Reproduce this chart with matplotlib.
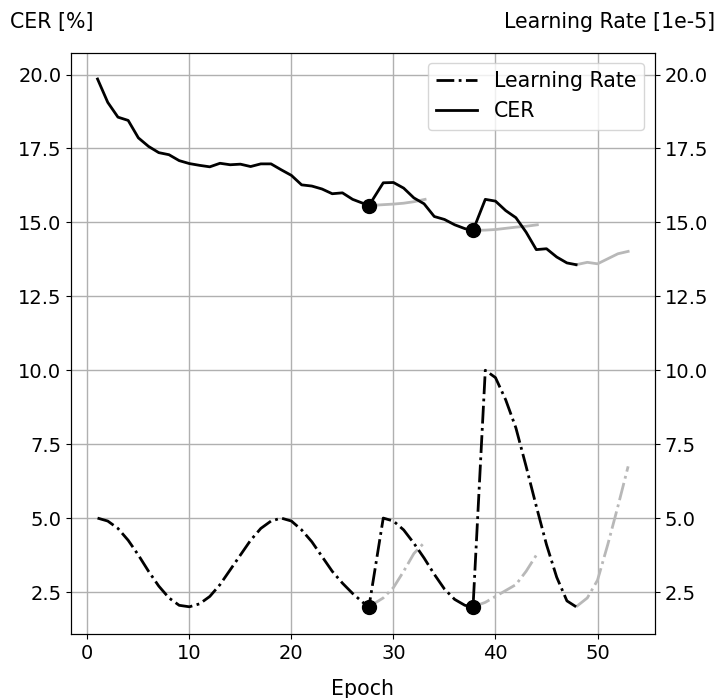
import matplotlib
matplotlib.use("Agg")
from matplotlib import pyplot as plt

# CER curve (black), with restart points at 27.6 and 37.8
cer_epoch = [1, 2, 3, 4, 5, 6, 7, 8, 9, 10, 11, 12, 13, 14, 15, 16, 17, 18, 19, 20,
             21, 22, 23, 24, 25, 26, 27.6, 29, 30, 31, 32, 33, 34, 35, 36, 37, 37.8,
             39, 40, 41, 42, 43, 44, 45, 46, 47, 47.9]
cer_value = [19.85, 19.06, 18.56, 18.45, 17.86, 17.57, 17.36, 17.29, 17.09, 16.99,
             16.93, 16.88, 17.0, 16.95, 16.97, 16.89, 16.98, 16.98, 16.78, 16.59,
             16.27, 16.23, 16.13, 15.97, 16.0, 15.78, 15.57, 16.34, 16.35, 16.16,
             15.83, 15.63, 15.2, 15.1, 14.92, 14.79, 14.73, 15.78, 15.72, 15.4,
             15.16, 14.67, 14.08, 14.11, 13.83, 13.63, 13.57]

# learning rate [1e-5] (black)
lr_epoch = [1, 2, 3, 4, 5, 6, 7, 8, 9, 10, 11, 12, 13, 14, 15, 16, 17, 18, 19, 20,
            21, 22, 23, 24, 25, 26, 27, 27.6, 29, 30, 31, 32, 33, 34, 35, 36, 37, 37.8,
            39, 40, 41, 42, 43, 44, 45, 46, 47, 47.9]
lr_value = [5.0, 4.9, 4.65, 4.25, 3.75, 3.2, 2.7, 2.3, 2.05, 2.0, 2.1, 2.35, 2.75,
            3.25, 3.75, 4.25, 4.65, 4.9, 5.0, 4.9, 4.6, 4.2, 3.7, 3.2, 2.8, 2.45,
            2.15, 2.0, 5.0, 4.9, 4.6, 4.15, 3.65, 3.1, 2.6, 2.25, 2.05, 2.0,
            10.0, 9.75, 9.0, 8.05, 6.75, 5.4, 4.1, 3.0, 2.2, 2.0]

# grey continuations (no restart)
g_cer_epoch = [[27.6, 29, 30, 31, 32, 33.1],
               [37.8, 39, 40, 41, 42, 43, 44.1],
               [47.9, 49, 50, 51, 52, 53]]
g_cer_value = [[15.57, 15.6, 15.62, 15.65, 15.7, 15.78],
               [14.73, 14.74, 14.76, 14.8, 14.84, 14.87, 14.92],
               [13.57, 13.65, 13.6, 13.77, 13.94, 14.02]]
g_lr_epoch = [[27.6, 29, 30, 31, 32, 33.1],
              [37.8, 39, 40, 41, 42, 43, 44.1],
              [47.9, 49, 50, 51, 52, 53]]
g_lr_value = [[2.0, 2.3, 2.65, 3.2, 3.8, 4.2],
              [2.0, 2.15, 2.35, 2.55, 2.75, 3.2, 3.8],
              [2.0, 2.3, 2.9, 4.1, 5.4, 6.75]]

# restart markers
restart_epoch = [27.6, 37.8]
restart_cer = [15.57, 14.73]
restart_lr = [2.0, 2.0]

grey = "#b8b8b8"
plt.rcParams["font.size"] = 14.8
plt.rcParams["xtick.labelsize"] = 14
plt.rcParams["ytick.labelsize"] = 14

fig = plt.figure(figsize=(7.21, 6.98), dpi=100)
ax = fig.add_axes([0.0985, 0.0917, 0.8095, 0.8328])
ax2 = ax.twinx()

for xs, ys in zip(g_cer_epoch, g_cer_value):
    ax.plot(xs, ys, color=grey, lw=2)
for xs, ys in zip(g_lr_epoch, g_lr_value):
    ax2.plot(xs, ys, color=grey, lw=2, ls="-.")

l_cer, = ax.plot(cer_epoch, cer_value, color="black", lw=2, label="CER")
l_lr, = ax2.plot(lr_epoch, lr_value, color="black", lw=2, ls="-.", label="Learning Rate")
ax.plot(restart_epoch, restart_cer, "o", color="black", ms=10)
ax2.plot(restart_epoch, restart_lr, "o", color="black", ms=10)

ax.set_xlim(-1.6, 55.6)
ax.set_ylim(1.08, 20.74)
ax2.set_ylim(1.08, 20.74)
ticks = [2.5, 5.0, 7.5, 10.0, 12.5, 15.0, 17.5, 20.0]
ax.set_yticks(ticks)
ax2.set_yticks(ticks)
ax.set_xticks([0, 10, 20, 30, 40, 50])
ax.grid(True, color="#b0b0b0", lw=1)
ax.set_xlabel("Epoch", labelpad=12)

fig.text(0.014, 0.968, "CER [%]", ha="left", va="center")
fig.text(0.992, 0.968, "Learning Rate [1e-5]", ha="right", va="center")

ax2.legend([l_lr, l_cer], ["Learning Rate", "CER"], loc="upper right")

fig.savefig("out.png", dpi=100)
